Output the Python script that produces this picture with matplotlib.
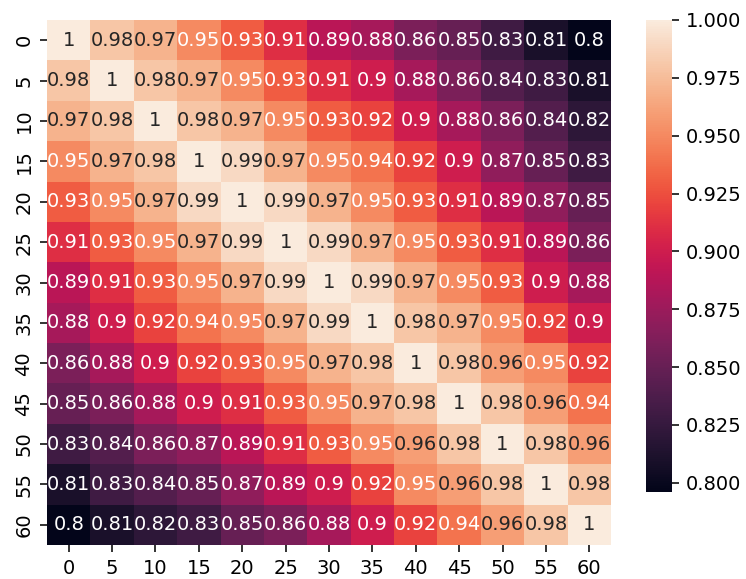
import numpy as np
import matplotlib
matplotlib.use("Agg")
import matplotlib.pyplot as plt
import seaborn as sns

# lag labels (rows and columns share them)
lags = [0, 5, 10, 15, 20, 25, 30, 35, 40, 45, 50, 55, 60]

# correlation between lags, symmetric
row_0 = [1, 0.98, 0.97, 0.95, 0.93, 0.91, 0.89, 0.88, 0.86, 0.85, 0.83, 0.81, 0.796]
row_5 = [0.98, 1, 0.98, 0.97, 0.95, 0.93, 0.91, 0.9, 0.88, 0.86, 0.84, 0.83, 0.81]
row_10 = [0.97, 0.98, 1, 0.98, 0.97, 0.95, 0.93, 0.92, 0.9, 0.88, 0.86, 0.84, 0.82]
row_15 = [0.95, 0.97, 0.98, 1, 0.99, 0.97, 0.95, 0.94, 0.92, 0.9, 0.87, 0.85, 0.83]
row_20 = [0.93, 0.95, 0.97, 0.99, 1, 0.99, 0.97, 0.95, 0.93, 0.91, 0.89, 0.87, 0.85]
row_25 = [0.91, 0.93, 0.95, 0.97, 0.99, 1, 0.99, 0.97, 0.95, 0.93, 0.91, 0.89, 0.86]
row_30 = [0.89, 0.91, 0.93, 0.95, 0.97, 0.99, 1, 0.99, 0.97, 0.95, 0.93, 0.9, 0.88]
row_35 = [0.88, 0.9, 0.92, 0.94, 0.95, 0.97, 0.99, 1, 0.98, 0.97, 0.95, 0.92, 0.9]
row_40 = [0.86, 0.88, 0.9, 0.92, 0.93, 0.95, 0.97, 0.98, 1, 0.98, 0.96, 0.95, 0.92]
row_45 = [0.85, 0.86, 0.88, 0.9, 0.91, 0.93, 0.95, 0.97, 0.98, 1, 0.98, 0.96, 0.94]
row_50 = [0.83, 0.84, 0.86, 0.87, 0.89, 0.91, 0.93, 0.95, 0.96, 0.98, 1, 0.98, 0.96]
row_55 = [0.81, 0.83, 0.84, 0.85, 0.87, 0.89, 0.9, 0.92, 0.95, 0.96, 0.98, 1, 0.98]
row_60 = [0.796, 0.81, 0.82, 0.83, 0.85, 0.86, 0.88, 0.9, 0.92, 0.94, 0.96, 0.98, 1]

corr = np.array([row_0, row_5, row_10, row_15, row_20, row_25, row_30,
                 row_35, row_40, row_45, row_50, row_55, row_60])

plt.rcParams['font.family'] = 'DejaVu Sans'

W, H = 746, 579
DPI = 140
fig = plt.figure(figsize=(W / DPI, H / DPI), dpi=DPI)
ax = fig.add_axes([47 / W, 1 - 545 / H, (611 - 47) / W, (545 - 20) / H])
cax = fig.add_axes([646 / W, 1 - 492 / H, 26 / W, 472 / H])

sns.heatmap(corr, annot=True, fmt='.2g', xticklabels=lags, yticklabels=lags,
            ax=ax, cbar_ax=cax)
cax.yaxis.set_major_formatter(matplotlib.ticker.FormatStrFormatter('%.3f'))

fig.savefig('out.png', dpi=DPI)
